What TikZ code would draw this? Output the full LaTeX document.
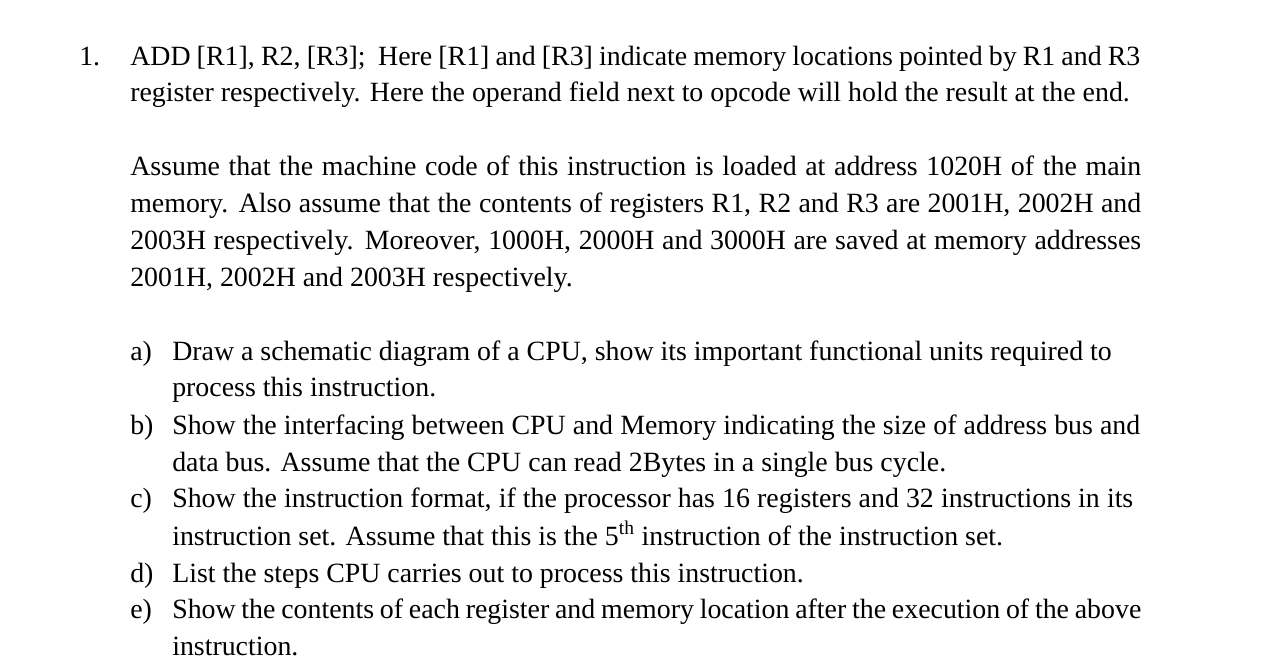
\documentclass[tikz,border=0pt]{standalone}
\usepackage{fontspec}
\setmainfont{Liberation Serif}
\setlength{\unitlength}{0.75pt}
\begin{document}
\begin{tikzpicture}[x=0.75pt,y=-0.75pt,
  line/.style={anchor=base west,inner sep=0pt,font=\fontsize{20.9}{25}\selectfont},
]
    \useasboundingbox (0,0) rectangle (1280,665);
    % question
    \node [line] (num) at (79,65) {1.};
    \node [line] (q1) at (130,65) {\makebox[1010\unitlength][s]{ADD [R1], R2, [R3]; \ Here [R1] and [R3] indicate memory locations pointed by R1 and R3}};
    \node [line] (q2) at (130,101) {register respectively. Here the operand field next to opcode will hold the result at the end.};
    \node [line] (p1) at (130,175) {\makebox[1011\unitlength][s]{Assume that the machine code of this instruction is loaded at address 1020H of the main}};
    \node [line] (p2) at (130,212) {\makebox[1011\unitlength][s]{memory. Also assume that the contents of registers R1, R2 and R3 are 2001H, 2002H and}};
    \node [line] (p3) at (130,249) {\makebox[1011\unitlength][s]{2003H respectively. Moreover, 1000H, 2000H and 3000H are saved at memory addresses}};
    \node [line] (p4) at (130,286) {2001H, 2002H and 2003H respectively.};
    % parts
    \node [line] (la) at (130,360) {a)};
    \node [line] (a1) at (172,360) {Draw a schematic diagram of a CPU, show its important functional units required to};
    \node [line] (a2) at (172,396) {process this instruction.};
    \node [line] (lb) at (130,434) {b)};
    \node [line] (b1) at (172,434) {\makebox[968\unitlength][s]{Show the interfacing between CPU and Memory indicating the size of address bus and}};
    \node [line] (b2) at (172,471) {data bus. Assume that the CPU can read 2Bytes in a single bus cycle.};
    \node [line] (lc) at (130,507) {c)};
    \node [line] (c1) at (172,507) {\makebox[961\unitlength][s]{Show the instruction format, if the processor has 16 registers and 32 instructions in its}};
    \node [line] (c2) at (172,545) {instruction set. Assume that this is the 5\textsuperscript{th} instruction of the instruction set.};
    \node [line] (ld) at (130,582) {d)};
    \node [line] (d1) at (172,582) {List the steps CPU carries out to process this instruction.};
    \node [line] (le) at (130,618) {e)};
    \node [line] (e1) at (172,618) {\makebox[969\unitlength][s]{Show the contents of each register and memory location after the execution of the above}};
    \node [line] (e2) at (172,655) {instruction.};
\end{tikzpicture}
\end{document}
